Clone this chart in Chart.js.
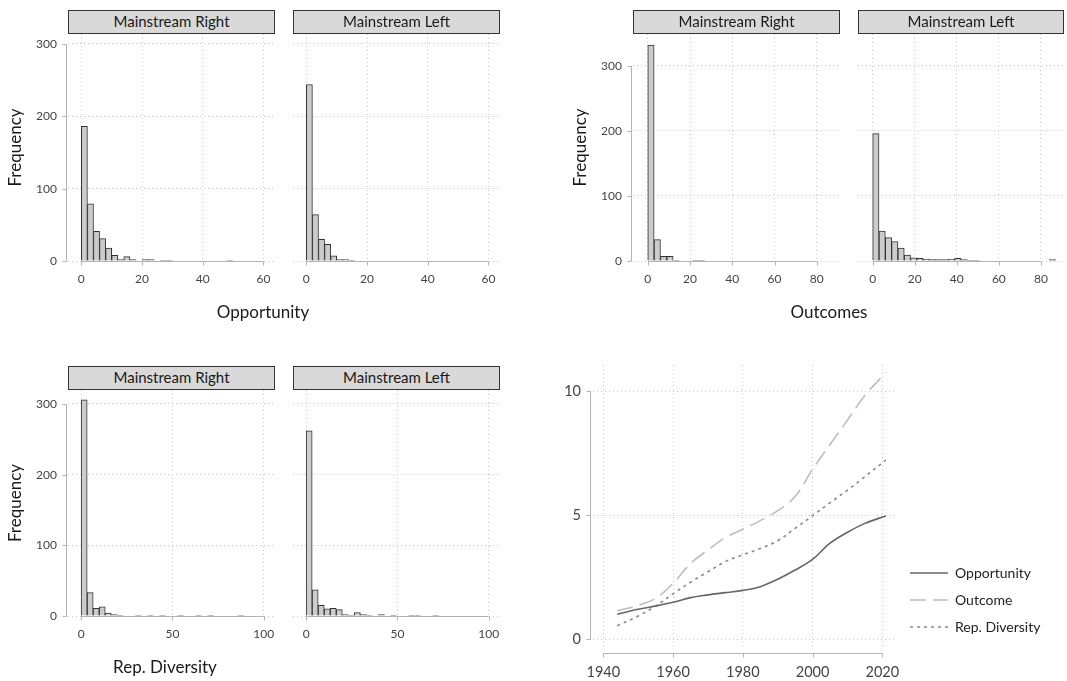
<!DOCTYPE html>
<html>
<head>
<meta charset="utf-8">
<script src="https://cdn.jsdelivr.net/npm/chart.js@4.4.1/dist/chart.umd.min.js"></script>
<style>
  body { margin: 0; background: #fff; font-family: Lato, "DejaVu Sans", sans-serif; }
  #wrap { position: relative; width: 1067px; height: 681px; overflow: hidden; }
  canvas { position: absolute; }
  .strip { position: absolute; box-sizing: border-box; height: 24px; background: #d9d9d9;
           border: 1px solid #333; font-size: 15px; color: #1a1a1a; text-align: center; line-height: 21px; }
  .xtitle { position: absolute; font-size: 17px; color: #1a1a1a; transform: translate(-50%, -50%); white-space: nowrap; }
</style>
</head>
<body>
<div id="wrap">
  <canvas id="oppR" width="275" height="277" style="left:0;top:24px"></canvas>
  <canvas id="oppL" width="207" height="277" style="left:293px;top:24px"></canvas>
  <canvas id="outR" width="275" height="277" style="left:565px;top:24px"></canvas>
  <canvas id="outL" width="206" height="277" style="left:858px;top:24px"></canvas>
  <canvas id="repR" width="275" height="276" style="left:0;top:380px"></canvas>
  <canvas id="repL" width="207" height="276" style="left:293px;top:380px"></canvas>
  <canvas id="trend" width="522" height="326" style="left:545px;top:355px"></canvas>

  <div class="strip" style="left:68px;top:10px;width:207px">Mainstream Right</div>
  <div class="strip" style="left:293px;top:10px;width:207px">Mainstream Left</div>
  <div class="strip" style="left:633px;top:10px;width:207px">Mainstream Right</div>
  <div class="strip" style="left:858px;top:10px;width:206px">Mainstream Left</div>
  <div class="strip" style="left:68px;top:366px;width:207px">Mainstream Right</div>
  <div class="strip" style="left:293px;top:366px;width:207px">Mainstream Left</div>

  <div class="xtitle" style="left:263px;top:311px">Opportunity</div>
  <div class="xtitle" style="left:829px;top:311px">Outcomes</div>
  <div class="xtitle" style="left:165px;top:666px">Rep. Diversity</div>
</div>
<script>
// histogram counts (bins start at 0)
const oppBin = 2;
const oppRight = [186, 79, 41, 31, 18, 8, 2, 6, 2, 0, 2, 2, 0, 1, 1, 0, 0, 0, 0, 0, 0, 0, 0, 0, 1];
const oppLeft = [244, 64, 30, 23, 7, 2, 2, 1];

const outBin = 3;
const outRight = [332, 33, 7, 7, 1, 0, 0, 1, 1];
const outLeft = [196, 46, 36, 30, 20, 9, 5, 4, 3, 2, 2, 2, 3, 4, 2, 1, 1,
                 0, 0, 0, 0, 0, 0, 0, 0, 0, 0, 0, 2];

const repBin = 3.3;
const repRight = [306, 33, 11, 13, 4, 2, 1, 0, 0, 1, 0, 1, 0, 1, 0, 0, 1, 0, 0, 1, 0, 1, 0, 0, 0, 0, 1];
const repLeft = [262, 37, 15, 10, 11, 9, 2, 1, 5, 2, 1, 0, 2, 0, 1, 0, 0, 1, 1, 0, 0, 1];

// tick labels
const freqTicks = [0, 100, 200, 300];
const oppTicks = [0, 20, 40, 60];
const outTicks = [0, 20, 40, 60, 80];
const repTicks = [0, 50, 100];

// trend lines
const years = [1944, 1950, 1955, 1960, 1965, 1970, 1975, 1980, 1985, 1990, 1995, 2000, 2005, 2010, 2015, 2021];
const opportunity = [1.01, 1.21, 1.34, 1.49, 1.68, 1.79, 1.88, 1.97, 2.12, 2.42, 2.79, 3.22, 3.87, 4.31, 4.67, 4.97];
const outcome = [1.15, 1.37, 1.65, 2.25, 3.05, 3.6, 4.1, 4.43, 4.78, 5.18, 5.75, 6.85, 7.85, 8.83, 9.82, 10.74];
const repDiversity = [0.55, 0.94, 1.34, 1.83, 2.3, 2.72, 3.13, 3.4, 3.66, 3.97, 4.47, 4.98, 5.5, 6.01, 6.55, 7.22];
const seriesNames = ['Opportunity', 'Outcome', 'Rep. Diversity'];
const yearTicks = [1940, 1960, 1980, 2000, 2020];
const trendTicks = [0, 5, 10];

const FONT = 'Lato, "DejaVu Sans", sans-serif';
Chart.defaults.font.family = FONT;
Chart.defaults.color = '#444';

const gridColor = '#c4c4c4';
const axisColor = '#b3b3b3';

// ggplot-like axis lines that stop at the first and last tick
function capAxes(cfg) {
  return {
    id: 'capAxes',
    beforeDatasetsDraw(chart) {
      const {ctx, chartArea, scales} = chart;
      ctx.save();
      ctx.strokeStyle = axisColor;
      ctx.lineWidth = 1;
      ctx.setLineDash([]);
      ctx.beginPath();
      if (cfg.x) {
        const s = scales.x, t = cfg.x.ticks;
        const y = Math.round(chartArea.bottom + cfg.x.offset) + 0.5;
        ctx.moveTo(s.getPixelForValue(t[0]), y);
        ctx.lineTo(s.getPixelForValue(t[t.length - 1]), y);
        t.forEach(v => {
          const p = Math.round(s.getPixelForValue(v)) + 0.5;
          ctx.moveTo(p, y);
          ctx.lineTo(p, y + 4);
        });
      }
      if (cfg.y) {
        const s = scales.y, t = cfg.y.ticks;
        const x = Math.round(chartArea.left - cfg.y.offset) - 0.5;
        ctx.moveTo(x, s.getPixelForValue(t[0]));
        ctx.lineTo(x, s.getPixelForValue(t[t.length - 1]));
        t.forEach(v => {
          const p = Math.round(s.getPixelForValue(v)) + 0.5;
          ctx.moveTo(x, p);
          ctx.lineTo(x - 4, p);
        });
      }
      ctx.stroke();
      ctx.restore();
    }
  };
}

function histogram(id, counts, binWidth, xTicks, xMin, xMax, yMax, withY) {
  const data = counts.map((c, i) => ({x: (i + 0.5) * binWidth, y: c}));
  return new Chart(document.getElementById(id), {
    type: 'bar',
    data: {
      datasets: [{
        data: data,
        backgroundColor: '#cccccc',
        borderColor: '#333333',
        borderWidth: 1,
        barPercentage: 1,
        categoryPercentage: 1
      }]
    },
    options: {
      responsive: false,
      animation: false,
      events: [],
      layout: {padding: {top: 10, left: 0, right: 0, bottom: 0}},
      plugins: {legend: {display: false}, tooltip: {enabled: false}},
      scales: {
        x: {
          type: 'linear',
          min: xMin,
          max: xMax,
          offset: false,
          afterBuildTicks: s => { s.ticks = xTicks.map(v => ({value: v})); },
          afterFit: s => { s.height = 40; },
          grid: {offset: false, color: gridColor, tickColor: 'transparent', tickLength: 11},
          border: {display: false, dash: [1, 3]},
          ticks: {padding: 0, autoSkip: false, maxRotation: 0, font: {size: 12}, callback: v => String(v)}
        },
        y: {
          min: 0,
          max: yMax,
          afterBuildTicks: s => { s.ticks = freqTicks.map(v => ({value: v})); },
          afterFit: s => { s.width = withY ? 68 : 0; },
          grid: {color: gridColor, tickColor: 'transparent', tickLength: 11},
          border: {display: false, dash: [1, 3]},
          ticks: {display: withY, padding: 0, font: {size: 12}, callback: v => String(v)},
          title: {display: withY, text: 'Frequency', color: '#1a1a1a', font: {size: 17}, padding: {top: 5, bottom: 0}}
        }
      }
    },
    plugins: [capAxes({
      x: {ticks: xTicks, offset: 0},
      y: withY ? {ticks: freqTicks, offset: 1} : null
    })]
  });
}

histogram('oppR', oppRight, oppBin, oppTicks, -4.4, 63.8, 313.8, true);
histogram('oppL', oppLeft, oppBin, oppTicks, -4.4, 63.8, 313.8, false);
histogram('outR', outRight, outBin, outTicks, -7, 91, 349.2, true);
histogram('outL', outLeft, outBin, outTicks, -7, 91, 349.2, false);
histogram('repR', repRight, repBin, repTicks, -7.2, 106.2, 319.8, true);
histogram('repL', repLeft, repBin, repTicks, -7.2, 106.2, 319.8, false);

// legend sits right of the plot; pad so the plot ends at x = 897
const legendFont = 14, legendBox = 38, legendPad = 13;
const mctx = document.createElement('canvas').getContext('2d');
mctx.font = legendFont + 'px ' + FONT;
const textW = Math.max(...seriesNames.map(n => mctx.measureText(n).width));
const legendW = legendPad + legendBox + legendFont / 2 + textW + 10;
const padRight = Math.max(0, (1067 - 897) - legendW);

const toPoints = vals => years.map((yr, i) => ({x: yr, y: vals[i]}));

new Chart(document.getElementById('trend'), {
  type: 'line',
  data: {
    datasets: [
      {label: seriesNames[0], data: toPoints(opportunity), borderColor: '#666666', borderWidth: 1.6,
       pointRadius: 0, tension: 0.35},
      {label: seriesNames[1], data: toPoints(outcome), borderColor: '#bdbdbd', borderWidth: 1.6,
       borderDash: [16, 7], pointRadius: 0, tension: 0.35},
      {label: seriesNames[2], data: toPoints(repDiversity), borderColor: '#8a8a8a', borderWidth: 1.6,
       borderDash: [3, 4], pointRadius: 0, tension: 0.35}
    ]
  },
  options: {
    responsive: false,
    animation: false,
    events: [],
    layout: {padding: {top: 10, left: 0, right: padRight, bottom: 0}},
    plugins: {
      tooltip: {enabled: false},
      legend: {
        position: 'right',
        align: 'end',
        fullSize: false,
        maxWidth: 300,
        labels: {
          usePointStyle: true,
          pointStyleWidth: legendBox,
          padding: legendPad,
          font: {size: legendFont},
          generateLabels: chart => chart.data.datasets.map((ds, i) => ({
            text: ds.label,
            datasetIndex: i,
            pointStyle: 'line',
            strokeStyle: ds.borderColor,
            fillStyle: ds.borderColor,
            lineWidth: ds.borderWidth,
            lineDash: ds.borderDash || [],
            fontColor: '#222'
          }))
        }
      }
    },
    scales: {
      x: {
        type: 'linear',
        min: 1937.05,
        max: 2024.2,
        afterBuildTicks: s => { s.ticks = yearTicks.map(v => ({value: v})); },
        afterFit: s => { s.height = 34; },
        grid: {color: gridColor, tickColor: 'transparent', tickLength: 17},
        border: {display: false, dash: [1, 3]},
        ticks: {padding: 0, autoSkip: false, maxRotation: 0, font: {size: 14.5}, callback: v => String(v)}
      },
      y: {
        min: -0.31,
        max: 11.05,
        afterBuildTicks: s => { s.ticks = trendTicks.map(v => ({value: v})); },
        afterFit: s => { s.width = 48; },
        grid: {color: gridColor, tickColor: 'transparent', tickLength: 12},
        border: {display: false, dash: [1, 3]},
        ticks: {padding: 0, font: {size: 14.5}, callback: v => String(v)}
      }
    }
  },
  plugins: [capAxes({
    x: {ticks: yearTicks, offset: 6},
    y: {ticks: trendTicks, offset: 2}
  })]
});
</script>
</body>
</html>
